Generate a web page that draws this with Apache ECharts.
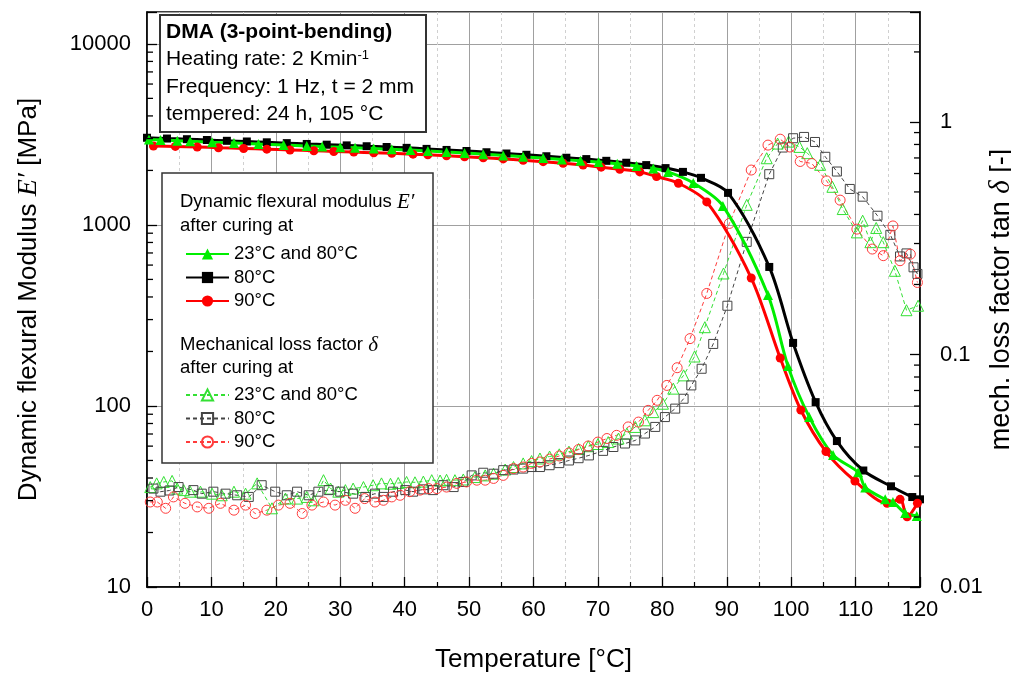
<!DOCTYPE html>
<html>
<head>
<meta charset="utf-8">
<title>DMA 3-point-bending</title>
<script src="https://cdn.jsdelivr.net/npm/echarts@6/dist/echarts.min.js"></script>
<style>
  html, body { margin: 0; padding: 0; background: #fff; }
  #chart { width: 1011px; height: 678px; }
</style>
</head>
<body>
<div id="chart"></div>
<script>
// Storage modulus E' [MPa] vs temperature [°C]
const eGreen = [[0.3,2960],[2.1,2945],[4.7,2920],[6.7,2900],[10.1,2865],[13.5,2835],[17.3,2795],[21.2,2760],[24.8,2730],[27.2,2710],[30,2685],[32.3,2665],[35.2,2640],[38,2615],[40.9,2590],[43.6,2560],[46.5,2525],[49.3,2495],[52.2,2460],[55.3,2420],[58.4,2380],[61.5,2340],[64.4,2300],[67.3,2260],[70.1,2225],[73,2175],[76,2115],[78.6,2050],[80.9,1963],[84.8,1706],[89.4,1274],[96.4,410],[99.5,166],[102.8,87],[106.5,53.6],[110.4,43],[111.5,35.5],[114.6,30.5],[115.8,29.5],[117.7,25.6],[119.5,24.7]];
const eBlack = [[0,3030],[3.1,3000],[6.2,2975],[9.3,2945],[12.4,2915],[15.5,2890],[18.6,2860],[21.7,2830],[24.8,2800],[27.9,2775],[31,2750],[34.1,2720],[37.2,2695],[40.3,2665],[43.4,2630],[46.5,2595],[49.6,2560],[52.7,2520],[55.8,2480],[58.9,2440],[62,2395],[65.1,2350],[68.2,2310],[71.3,2260],[74.4,2205],[77.5,2140],[80.5,2060],[83.2,1963],[86,1820],[90.2,1503],[96.6,586],[100.3,223],[103.8,105],[107.1,64],[111.2,44],[115.5,36],[118.8,31.4],[120,30.5]];
const eRed = [[1,2730],[4.4,2715],[7.8,2695],[11.1,2670],[15,2645],[18.6,2620],[22.2,2595],[25.9,2570],[29,2545],[32.1,2525],[35.2,2505],[38,2485],[41.3,2460],[43.6,2440],[46.5,2410],[49.3,2380],[52.2,2350],[55.3,2315],[58.4,2275],[61.5,2235],[64.6,2190],[67.7,2140],[70.5,2085],[73.4,2030],[76.5,1963],[79.1,1850],[82.5,1700],[86.9,1340],[93.8,509],[98.3,184],[101.5,95],[105.4,56],[109.9,38.5],[114.9,29],[116.9,30.5],[118,24.4],[119.6,29]];

// mechanical loss factor tan delta vs temperature
const dGreen = [[0.5,0.0269],[1.5,0.0279],[2.6,0.0283],[3.9,0.0286],[4.7,0.0265],[5.7,0.0261],[6.7,0.0257],[8.3,0.0257],[10.1,0.0252],[11.6,0.0248],[13.5,0.0257],[15.3,0.0252],[17.1,0.0279],[19.4,0.0218],[21.5,0.0240],[23.3,0.0240],[24.8,0.0244],[25.9,0.0236],[27.4,0.0288],[28.5,0.0265],[29.7,0.0257],[30.8,0.0261],[32.0,0.0265],[33.6,0.0269],[35.1,0.0274],[36.4,0.0279],[37.8,0.0278],[39.0,0.0280],[40.3,0.0283],[41.6,0.0282],[42.9,0.0284],[44.2,0.0288],[45.5,0.0287],[46.5,0.0289],[47.8,0.0288],[49.1,0.0290],[50.9,0.0297],[52.5,0.0302],[53.8,0.0307],[55.6,0.0320],[56.9,0.0328],[58.4,0.0340],[59.7,0.0348],[61.0,0.0357],[62.5,0.0364],[64.0,0.0372],[65.5,0.0382],[67.0,0.0392],[68.5,0.0403],[70.0,0.0412],[71.6,0.0420],[73.2,0.0435],[74.5,0.0457],[75.8,0.0488],[77.3,0.0521],[78.6,0.0565],[80.1,0.0614],[81.7,0.0713],[83.3,0.0813],[85.0,0.098],[86.6,0.131],[89.5,0.223],[93.1,0.440],[96.2,0.698],[97.9,0.807],[99.6,0.823],[101.3,0.781],[102.5,0.734],[104.5,0.654],[106.4,0.526],[108.0,0.422],[110.2,0.335],[111.1,0.376],[112.3,0.304],[113.2,0.350],[114.3,0.304],[116.1,0.229],[117.9,0.155],[119.7,0.162]];
const dBlack = [[1.0,0.0265],[2.1,0.0257],[3.5,0.0260],[4.9,0.0269],[7.2,0.0261],[8.5,0.0252],[10.3,0.0257],[12.2,0.0252],[14.0,0.0248],[15.8,0.0244],[17.8,0.0274],[19.9,0.0257],[21.7,0.0248],[23.3,0.0257],[25.1,0.0248],[26.6,0.0257],[28.2,0.0261],[30.0,0.0257],[32.0,0.0252],[33.9,0.0244],[35.4,0.0252],[36.7,0.0244],[38.2,0.0257],[40.1,0.0261],[41.3,0.0257],[42.9,0.0263],[44.4,0.0261],[46.0,0.0274],[47.6,0.0269],[49.1,0.0283],[50.4,0.0302],[52.2,0.0310],[53.8,0.0307],[55.3,0.0318],[56.9,0.0320],[58.4,0.0323],[59.7,0.0328],[61.0,0.0328],[62.5,0.0334],[64.0,0.0341],[65.5,0.0350],[67.0,0.0358],[68.6,0.0368],[70.8,0.0385],[72.4,0.0400],[74.2,0.0414],[75.8,0.0427],[77.3,0.0457],[78.9,0.0488],[80.4,0.0538],[82.0,0.0585],[83.3,0.0645],[84.5,0.0736],[86.1,0.0868],[87.9,0.111],[90.1,0.162],[93.1,0.305],[96.6,0.596],[98.7,0.776],[100.3,0.851],[102.0,0.862],[103.7,0.820],[105.3,0.708],[107.1,0.612],[109.1,0.515],[111.1,0.477],[113.4,0.395],[115.4,0.327],[116.9,0.264],[117.9,0.272],[119.0,0.237],[119.6,0.222]];
const dRed = [[0.5,0.0232],[1.6,0.0232],[2.9,0.0218],[4.1,0.0244],[5.9,0.0229],[7.8,0.0221],[9.6,0.0218],[11.4,0.0229],[13.5,0.0214],[15.3,0.0225],[16.8,0.0207],[18.6,0.0214],[20.4,0.0225],[22.2,0.0229],[24.1,0.0207],[25.6,0.0225],[27.4,0.0232],[29.2,0.0225],[30.8,0.0236],[32.3,0.0218],[33.8,0.0240],[35.4,0.0232],[36.7,0.0236],[38.0,0.0244],[39.3,0.0248],[40.8,0.0257],[42.4,0.0261],[43.7,0.0265],[45.0,0.0265],[46.5,0.0269],[48.1,0.0279],[49.6,0.0283],[51.2,0.0288],[52.5,0.0288],[53.8,0.0293],[55.3,0.0302],[56.9,0.0323],[58.4,0.0328],[59.7,0.0340],[61.0,0.0345],[62.5,0.0355],[64.0,0.0366],[65.5,0.0377],[67.0,0.0390],[68.5,0.0404],[70.0,0.0420],[71.4,0.0435],[72.9,0.0449],[74.7,0.0488],[76.3,0.0512],[77.8,0.0575],[79.2,0.0635],[80.7,0.0736],[82.3,0.0877],[84.3,0.117],[86.9,0.183],[90.4,0.366],[93.8,0.621],[96.4,0.795],[98.3,0.843],[99.8,0.780],[101.4,0.676],[103.2,0.663],[105.5,0.558],[107.6,0.461],[110.2,0.346],[112.6,0.284],[114.3,0.266],[115.8,0.357],[116.9,0.253],[118.5,0.270],[119.6,0.204]];

const curingLabels = ['23°C and 80°C', '80°C', '90°C'];
const leftTickLabels = [10, 100, 1000, 10000];
const rightTickLabels = [0.01, 0.1, 1];

const FONT = 'Liberation Sans, Arial, sans-serif';

// minor ticks at 2..9 of each decade (log axes)
const leftMinor = [];
[10, 100, 1000].forEach(d => { for (let m = 2; m <= 9; m++) leftMinor.push([0, m * d]); });
const rightMinor = [];
[0.01, 0.1, 1].forEach(d => { for (let m = 2; m <= 9; m++) if (m * d <= 2.97) rightMinor.push([120, m * d]); });

function pickLabel(list) {
  return v => {
    const hit = list.find(t => Math.abs(Math.log10(v) - Math.log10(t)) < 1e-6);
    return hit === undefined ? '' : String(hit);
  };
}

function tickRender(dir) {
  return (params, api) => {
    const p = api.coord([api.value(0), api.value(1)]);
    return {
      type: 'line',
      shape: { x1: p[0], y1: p[1], x2: p[0] + dir * 6, y2: p[1] },
      style: { stroke: '#000', lineWidth: 1.3 }
    };
  };
}

const chart = echarts.init(document.getElementById('chart'));

const option = {
  animation: false,
  backgroundColor: '#fff',
  grid: { left: 147, right: 91, top: 12, bottom: 91, show: true, borderColor: '#000', borderWidth: 1.5,
    backgroundColor: '#fff', containLabel: false, outerBoundsMode: 'none' },
  xAxis: {
    type: 'value', min: 0, max: 120, interval: 10,
    name: 'Temperature [°C]', nameLocation: 'middle', nameGap: 60, nameMoveOverlap: false,
    nameTextStyle: { fontFamily: FONT, fontSize: 26, color: '#000' },
    axisLine: { lineStyle: { color: '#000', width: 1.5 } },
    axisTick: { inside: true, length: 10, lineStyle: { color: '#000', width: 1.3 } },
    minorTick: { show: true, splitNumber: 2, length: 5, lineStyle: { color: '#000', width: 1.2 } },
    axisLabel: { fontFamily: FONT, fontSize: 22, color: '#000', margin: 12 },
    splitLine: { show: true, lineStyle: { color: '#a0a0a0', width: 1 } },
    minorSplitLine: { show: true, lineStyle: { color: '#d0d0d0', width: 1, type: [3, 3] } }
  },
  yAxis: [
    {
      type: 'log', min: 10, max: 15000, position: 'left',
      name: 'Dynamic flexural Modulus {i|E′} [MPa]', nameLocation: 'middle', nameGap: 104, nameRotate: 90, nameMoveOverlap: false,
      nameTextStyle: { fontFamily: FONT, fontSize: 26, color: '#000',
        rich: { i: { fontFamily: 'Liberation Serif, serif', fontStyle: 'italic', fontSize: 28, color: '#000' } } },
      axisLine: { show: true, lineStyle: { color: '#000', width: 1.5 } },
      axisTick: { inside: true, length: 10, lineStyle: { color: '#000', width: 1.3 } },
      axisLabel: { fontFamily: FONT, fontSize: 22, color: '#000', margin: 16, formatter: pickLabel(leftTickLabels) },
      splitLine: { show: true, lineStyle: { color: '#a0a0a0', width: 1 } }
    },
    {
      type: 'log', min: 0.01, max: 2.97, position: 'right',
      name: 'mech. loss factor tan {i|δ} [-]', nameLocation: 'middle', nameGap: 67, nameRotate: 90, nameMoveOverlap: false,
      nameTextStyle: { fontFamily: FONT, fontSize: 27, color: '#000',
        rich: { i: { fontFamily: 'Liberation Serif, serif', fontStyle: 'italic', fontSize: 29, color: '#000' } } },
      axisLine: { show: true, lineStyle: { color: '#000', width: 1.5 } },
      axisTick: { inside: true, length: 10, lineStyle: { color: '#000', width: 1.3 } },
      axisLabel: { fontFamily: FONT, fontSize: 22, color: '#000', margin: 20, formatter: pickLabel(rightTickLabels) },
      splitLine: { show: false }
    }
  ],
  legend: [
    {
      data: curingLabels.map(n => 'E|' + n),
      formatter: n => n.slice(2),
      orient: 'vertical', left: 180, top: 239.5, z: 12,
      itemWidth: 43, itemHeight: 14, itemGap: 4.5, selectedMode: false,
      textStyle: { fontFamily: FONT, fontSize: 18.5, lineHeight: 19, color: '#000' }
    },
    {
      data: curingLabels.map(n => 'D|' + n),
      formatter: n => n.slice(2),
      orient: 'vertical', left: 180, top: 380.5, z: 12,
      itemWidth: 43, itemHeight: 14, itemGap: 4.5, selectedMode: false,
      textStyle: { fontFamily: FONT, fontSize: 18.5, lineHeight: 19, color: '#000' }
    }
  ],
  graphic: [
    { type: 'rect', z: 10, shape: { x: 160, y: 15, width: 266, height: 117 }, style: { fill: '#fff', stroke: '#333', lineWidth: 2 } },
    { type: 'text', z: 11, x: 166, y: 32, style: { text: 'DMA (3-point-bending)', fontFamily: FONT, fontSize: 21, fontWeight: 'bold', fill: '#000', verticalAlign: 'middle' } },
    { type: 'text', z: 11, x: 166, y: 59.5, style: { text: 'Heating rate: 2 Kmin{s|-1}', fontFamily: FONT, fontSize: 21, fill: '#000', verticalAlign: 'middle',
        rich: { s: { fontFamily: FONT, fontSize: 13, verticalAlign: 'top', fill: '#000' } } } },
    { type: 'text', z: 11, x: 166, y: 87, style: { text: 'Frequency: 1 Hz, t = 2 mm', fontFamily: FONT, fontSize: 21, fill: '#000', verticalAlign: 'middle' } },
    { type: 'text', z: 11, x: 166, y: 114, style: { text: 'tempered: 24 h, 105 °C', fontFamily: FONT, fontSize: 21, fill: '#000', verticalAlign: 'middle' } },
    { type: 'rect', z: 10, shape: { x: 162, y: 173, width: 271, height: 290 }, style: { fill: '#fff', stroke: '#333', lineWidth: 1.5 } },
    { type: 'text', z: 11, x: 180, y: 202, style: { text: 'Dynamic flexural modulus {i|E′}', fontFamily: FONT, fontSize: 18.5, fill: '#000', verticalAlign: 'middle',
        rich: { i: { fontFamily: 'Liberation Serif, serif', fontStyle: 'italic', fontSize: 21, fill: '#000' } } } },
    { type: 'text', z: 11, x: 180, y: 226, style: { text: 'after curing at', fontFamily: FONT, fontSize: 18.5, fill: '#000', verticalAlign: 'middle' } },
    { type: 'text', z: 11, x: 180, y: 345, style: { text: 'Mechanical loss factor {i|δ}', fontFamily: FONT, fontSize: 18.5, fill: '#000', verticalAlign: 'middle',
        rich: { i: { fontFamily: 'Liberation Serif, serif', fontStyle: 'italic', fontSize: 21, fill: '#000' } } } },
    { type: 'text', z: 11, x: 180, y: 368, style: { text: 'after curing at', fontFamily: FONT, fontSize: 18.5, fill: '#000', verticalAlign: 'middle' } }
  ],
  series: [
    { name: 'D|' + curingLabels[0], type: 'line', yAxisIndex: 1, data: dGreen, z: 3,
      symbol: 'triangle', symbolSize: 11,
      lineStyle: { color: '#33e033', width: 1, type: [4, 3] },
      itemStyle: { color: 'rgba(0,0,0,0)', borderColor: '#33e033', borderWidth: 1 } },
    { name: 'D|' + curingLabels[1], type: 'line', yAxisIndex: 1, data: dBlack, z: 3,
      symbol: 'rect', symbolSize: 9,
      lineStyle: { color: '#444', width: 1, type: [4, 3] },
      itemStyle: { color: 'rgba(0,0,0,0)', borderColor: '#444', borderWidth: 1 } },
    { name: 'D|' + curingLabels[2], type: 'line', yAxisIndex: 1, data: dRed, z: 3,
      symbol: 'circle', symbolSize: 10,
      lineStyle: { color: '#ff3b3b', width: 1, type: [4, 3] },
      itemStyle: { color: 'rgba(0,0,0,0)', borderColor: '#ff3b3b', borderWidth: 1 } },
    { name: 'E|' + curingLabels[1], type: 'line', data: eBlack, z: 5, smooth: 0.3,
      symbol: 'rect', symbolSize: 8,
      lineStyle: { color: '#000', width: 3 }, itemStyle: { color: '#000' } },
    { name: 'E|' + curingLabels[2], type: 'line', data: eRed, z: 5, smooth: 0.3,
      symbol: 'circle', symbolSize: 9,
      lineStyle: { color: '#ff0000', width: 3 }, itemStyle: { color: '#ff0000' } },
    { name: 'E|' + curingLabels[0], type: 'line', data: eGreen, z: 5, smooth: 0.3,
      symbol: 'triangle', symbolSize: 10,
      lineStyle: { color: '#00ee00', width: 3 }, itemStyle: { color: '#00ee00' } },
    { name: 'leftMinor', type: 'custom', data: leftMinor, renderItem: tickRender(1), silent: true, z: 6 },
    { name: 'rightMinor', type: 'custom', yAxisIndex: 1, data: rightMinor, renderItem: tickRender(-1), silent: true, z: 6 }
  ]
};

chart.setOption(option);
</script>
</body>
</html>
